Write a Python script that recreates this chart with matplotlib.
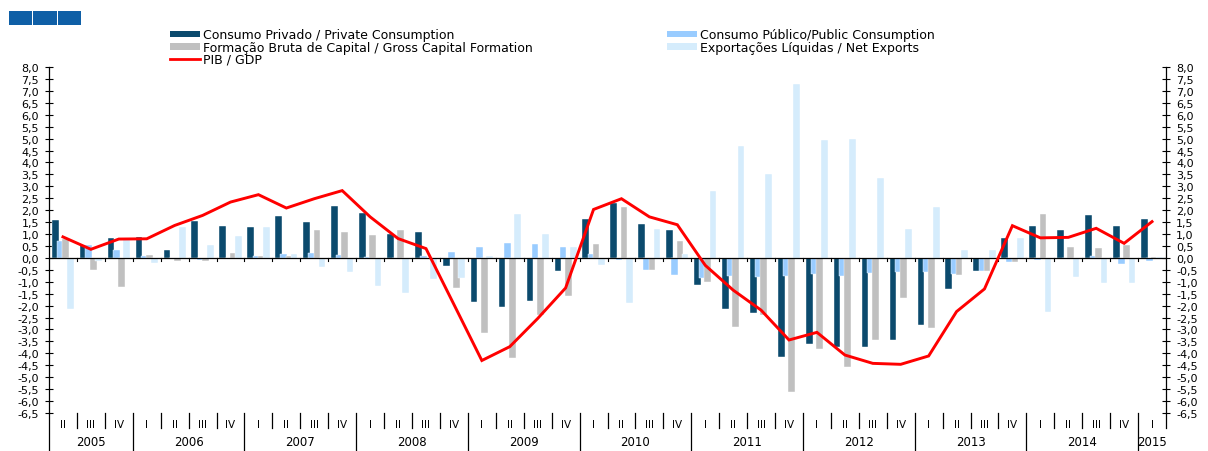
import numpy as np
import matplotlib
matplotlib.use("Agg")
import matplotlib.pyplot as plt
from matplotlib.patches import Rectangle, Patch
from matplotlib.lines import Line2D
import matplotlib.transforms as mtransforms

plt.rcParams["font.family"] = ["DejaVu Sans"]

# ─────────── DATA (contributions to GDP growth, p.p.) ──────────────────────
quarters = ["II", "III", "IV"] + ["I", "II", "III", "IV"] * 9 + ["I"]
years    = ["2005", "2006", "2007", "2008", "2009", "2010",
            "2011", "2012", "2013", "2014", "2015"]

priv = [1.57, 0.56, 0.84, 0.88, 0.32, 1.53, 1.34, 1.28, 1.77, 1.50,
        2.17, 1.90, 0.99, 1.09, -0.33, -1.85, -2.05, -1.80, -0.53, 1.62,
        2.32, 1.41, 1.19, -1.12, -2.16, -2.33, -4.16, -3.60, -3.74, -3.75,
        -3.44, -2.80, -1.31, -0.57, 0.84, 1.35, 1.17, 1.79, 1.32, 1.65]

pub  = [0.69, 0.53, 0.32, 0.07, -0.05, -0.10, -0.03, 0.10, 0.18, 0.20,
        0.14, 0.04, -0.01, 0.08, 0.25, 0.46, 0.63, 0.60, 0.45, 0.17,
        -0.07, -0.49, -0.71, -0.84, -0.75, -0.82, -0.75, -0.67, -0.74, -0.64,
        -0.60, -0.61, -0.66, -0.57, -0.17, -0.08, -0.03, 0.08, -0.25, -0.14]

fbcf = [0.80, -0.52, -1.21, 0.14, -0.15, -0.13, 0.20, 0.10, 0.06, 1.18,
        1.08, 0.95, 1.15, 0.00, -1.25, -3.15, -4.18, -2.40, -1.60, 0.60,
        2.12, -0.49, 0.70, -1.00, -2.91, -2.40, -5.63, -3.82, -4.59, -3.45,
        -1.70, -2.93, -0.70, -0.54, -0.18, 1.83, 0.47, 0.40, 0.52, 0.02]

netx = [-2.16, -0.14, 0.85, -0.20, 1.30, 0.56, 0.92, 1.28, 0.18, -0.40,
        -0.59, -1.17, -1.46, -0.90, -0.86, 0.08, 1.86, 1.00, 0.45, -0.31,
        -1.88, 1.21, 0.18, 2.79, 4.71, 3.50, 7.29, 4.94, 4.97, 3.36,
        1.21, 2.12, 0.35, 0.31, 0.84, -2.25, -0.78, -1.07, -1.05, 0.04]

gdp  = [0.88, 0.36, 0.79, 0.80, 1.36, 1.78, 2.34, 2.65, 2.09, 2.48,
        2.82, 1.72, 0.81, 0.39, -1.95, -4.30, -3.72, -2.54, -1.26, 2.03,
        2.48, 1.72, 1.39, -0.31, -1.35, -2.19, -3.44, -3.12, -4.07, -4.42,
        -4.46, -4.11, -2.25, -1.30, 1.35, 0.84, 0.86, 1.24, 0.61, 1.52]

labels = ["Consumo Privado / Private Consumption",
          "Consumo Público/Public Consumption",
          "Formação Bruta de Capital / Gross Capital Formation",
          "Exportações Líquidas / Net Exports",
          "PIB / GDP"]

C_PRIV, C_PUB, C_FBCF, C_NETX, C_GDP = "#0B4A6D", "#99CCFF", "#C0C0C0", "#D5ECFC", "#FF0000"
# ────────────────────────────────────────────────────────────────────────────

W, H = 1208, 452
fig = plt.figure(figsize=(W / 100, H / 100), dpi=100)
ax = fig.add_axes([49 / W, 1 - 414 / H, (1166 - 49) / W, (414 - 68) / H])

x = np.arange(len(quarters))
step, bw = 0.185, 0.24
series = [(priv, C_PRIV), (pub, C_PUB), (fbcf, C_FBCF), (netx, C_NETX)]
for k, (vals, col) in enumerate(series):
    ax.bar(x + (k - 1.5) * step, vals, width=bw, color=col,
           edgecolor="white", linewidth=0.3, zorder=2 + k)

ax.plot(x, gdp, color=C_GDP, lw=2.1, zorder=10, solid_joinstyle="miter")
ax.axhline(0, color="black", lw=0.9, zorder=9)

ax.set_xlim(-0.5, len(quarters) - 0.5)
ax.set_ylim(-6.5, 8.0)
yt = np.arange(-6.5, 8.01, 0.5)
ax.set_yticks(yt)
ax.set_yticklabels([f"{v:.1f}".replace(".", ",") for v in yt])
ax.tick_params(axis="y", direction="inout", length=5.5, width=0.8,
               labelsize=8, pad=4.5, right=True, labelright=True)
ax.set_xticks([])
for s in ("top", "bottom"):
    ax.spines[s].set_visible(False)
for s in ("left", "right"):
    ax.spines[s].set_linewidth(0.9)

# small ticks on the zero line at quarter boundaries
for b in np.arange(0.5, len(quarters) - 0.5):
    ax.plot([b, b], [0, -0.13], color="black", lw=0.8, zorder=9)

# category axis below the plot
trans = mtransforms.blended_transform_factory(ax.transData, ax.transAxes)
ax_h = 414 - 68
q_low = -(429 - 414) / ax_h
y_low = -(452 - 414) / ax_h
year_starts = [0] + [i for i, q in enumerate(quarters) if q == "I"]
for b in range(1, len(quarters) + 1):
    bx = b - 0.5
    low = y_low if (b in year_starts and b < len(quarters)) else q_low
    ax.plot([bx, bx], [0, low], color="black", lw=0.9, transform=trans, clip_on=False)
ax.plot([-0.5, -0.5], [0, y_low], color="black", lw=0.9, transform=trans, clip_on=False)

for i, q in enumerate(quarters):
    ax.text(i, -(425 - 414) / ax_h, q, transform=trans, ha="center", va="center",
            fontsize=7.5)
bounds = year_starts + [len(quarters)]
for yr, a, b in zip(years, bounds[:-1], bounds[1:]):
    ax.text((a + b - 1) / 2, -(443 - 414) / ax_h, yr, transform=trans,
            ha="center", va="center", fontsize=8.5)

# legend in two blocks
h_priv = Patch(facecolor=C_PRIV)
h_pub = Patch(facecolor=C_PUB)
h_fbcf = Patch(facecolor=C_FBCF)
h_netx = Patch(facecolor=C_NETX)
h_gdp = Line2D([], [], color=C_GDP, lw=2)
leg_kw = dict(loc="upper left", frameon=False, fontsize=9, borderpad=0,
              borderaxespad=0, handlelength=2.4, handleheight=0.45,
              handletextpad=0.25, labelspacing=-0.065)
fig.legend([h_priv, h_fbcf, h_gdp], [labels[0], labels[2], labels[4]],
           bbox_to_anchor=(170 / W, 1 - 29.5 / H), **leg_kw)
fig.legend([h_pub, h_netx], [labels[1], labels[3]],
           bbox_to_anchor=(667 / W, 1 - 29.5 / H), **leg_kw)

# logo blocks top-left
for x0, x1 in [(9, 32), (33, 57), (58, 81)]:
    fig.patches.append(Rectangle((x0 / W, 1 - 25.5 / H), (x1 - x0) / W, 13.5 / H,
                                 transform=fig.transFigure, facecolor="#0F5FA6",
                                 edgecolor="none"))

fig.savefig("out.png", dpi=100)
